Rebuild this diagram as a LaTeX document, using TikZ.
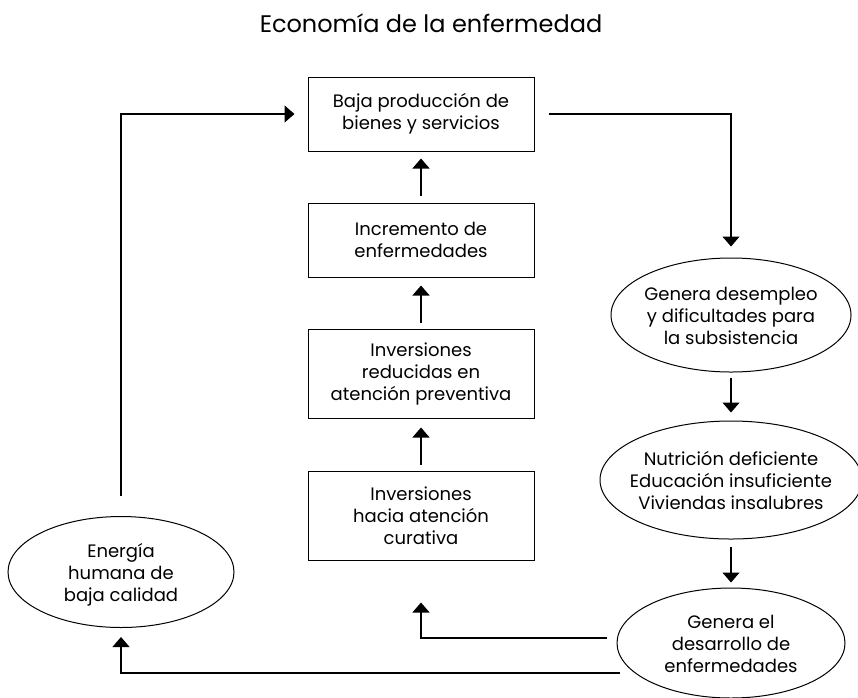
\documentclass[tikz,border=0pt]{standalone}
\usepackage{fontspec}
\setmainfont{Poppins}
\usetikzlibrary{arrows.meta,shapes.geometric}

\newcommand{\ovaltext}[1]{\makebox[0pt]{\raisebox{-7pt}[0pt][0pt]{\begin{tabular}{@{}c@{}}#1\end{tabular}}}}

\tikzset{
    box/.style={draw, line width=1pt, minimum width=226pt, minimum height=74pt, inner sep=0pt, align=center, font=\fontsize{18}{22}\selectfont},
    oval/.style={draw, ellipse, line width=1pt, inner sep=0pt, font=\fontsize{18}{22}\selectfont},
    flow/.style={-{Triangle[length=10pt,width=17pt]}, line width=1.1pt}
}

\begin{document}
\begin{tikzpicture}[x=1pt, y=-1pt]
    \useasboundingbox (0,0) rectangle (858,697);

    % Title
    \node[font=\fontsize{24}{28}\selectfont] (title) at (431,23) {Economía de la enfermedad};

    % Central column
    \node[box] (prod) at (421,114) {Baja producción de\\bienes y servicios};
    \node[box] (incr) at (421,240) {Incremento de\\enfermedades};
    \node[box, minimum height=89pt] (prev) at (421,373.5) {Inversiones\\reducidas en\\atención preventiva};
    \node[box, minimum height=89pt] (cura) at (421,515.5) {Inversiones\\hacia atención\\curativa};

    % Right column
    \node[oval, minimum width=240pt, minimum height=114pt] (desem) at (731,315) {\ovaltext{Genera desempleo\\y dificultades para\\la subsistencia}};
    \node[oval, minimum width=262pt, minimum height=118pt] (nutri) at (731,480) {\ovaltext{Nutrición deficiente\\Educación insuficiente\\Viviendas insalubres}};
    \node[oval, minimum width=228pt, minimum height=110pt] (desar) at (731,643) {\ovaltext{Genera el\\desarrollo de\\enfermedades}};

    % Left
    \node[oval, minimum width=226pt, minimum height=111pt] (energ) at (121,572) {\ovaltext{Energía\\humana de\\baja calidad}};

    % Arrows up the column
    \draw[flow, shorten <=6pt, shorten >=9pt] (cura) -- (prev);
    \draw[flow, shorten <=6pt, shorten >=8pt] (prev) -- (incr);
    \draw[flow, shorten <=7pt, shorten >=7pt] (incr) -- (prod);

    % Loop
    \draw[flow, shorten <=20pt, shorten >=13pt] (energ.north) |- (prod.west);
    \draw[flow, shorten <=14pt, shorten >=11pt] (prod.east) -| (desem.north);
    \draw[flow, shorten <=5pt, shorten >=8pt] (desem) -- (nutri);
    \draw[flow, shorten <=7pt, shorten >=5pt] (nutri) -- (desar);
    \draw[flow, shorten <=10pt, shorten >=42pt] ([yshift=5pt]desar.west) -| (cura.south);
    \draw[flow, shorten >=9pt] ([xshift=3pt,yshift=-30pt]desar.west) -| (energ.south);
\end{tikzpicture}
\end{document}
